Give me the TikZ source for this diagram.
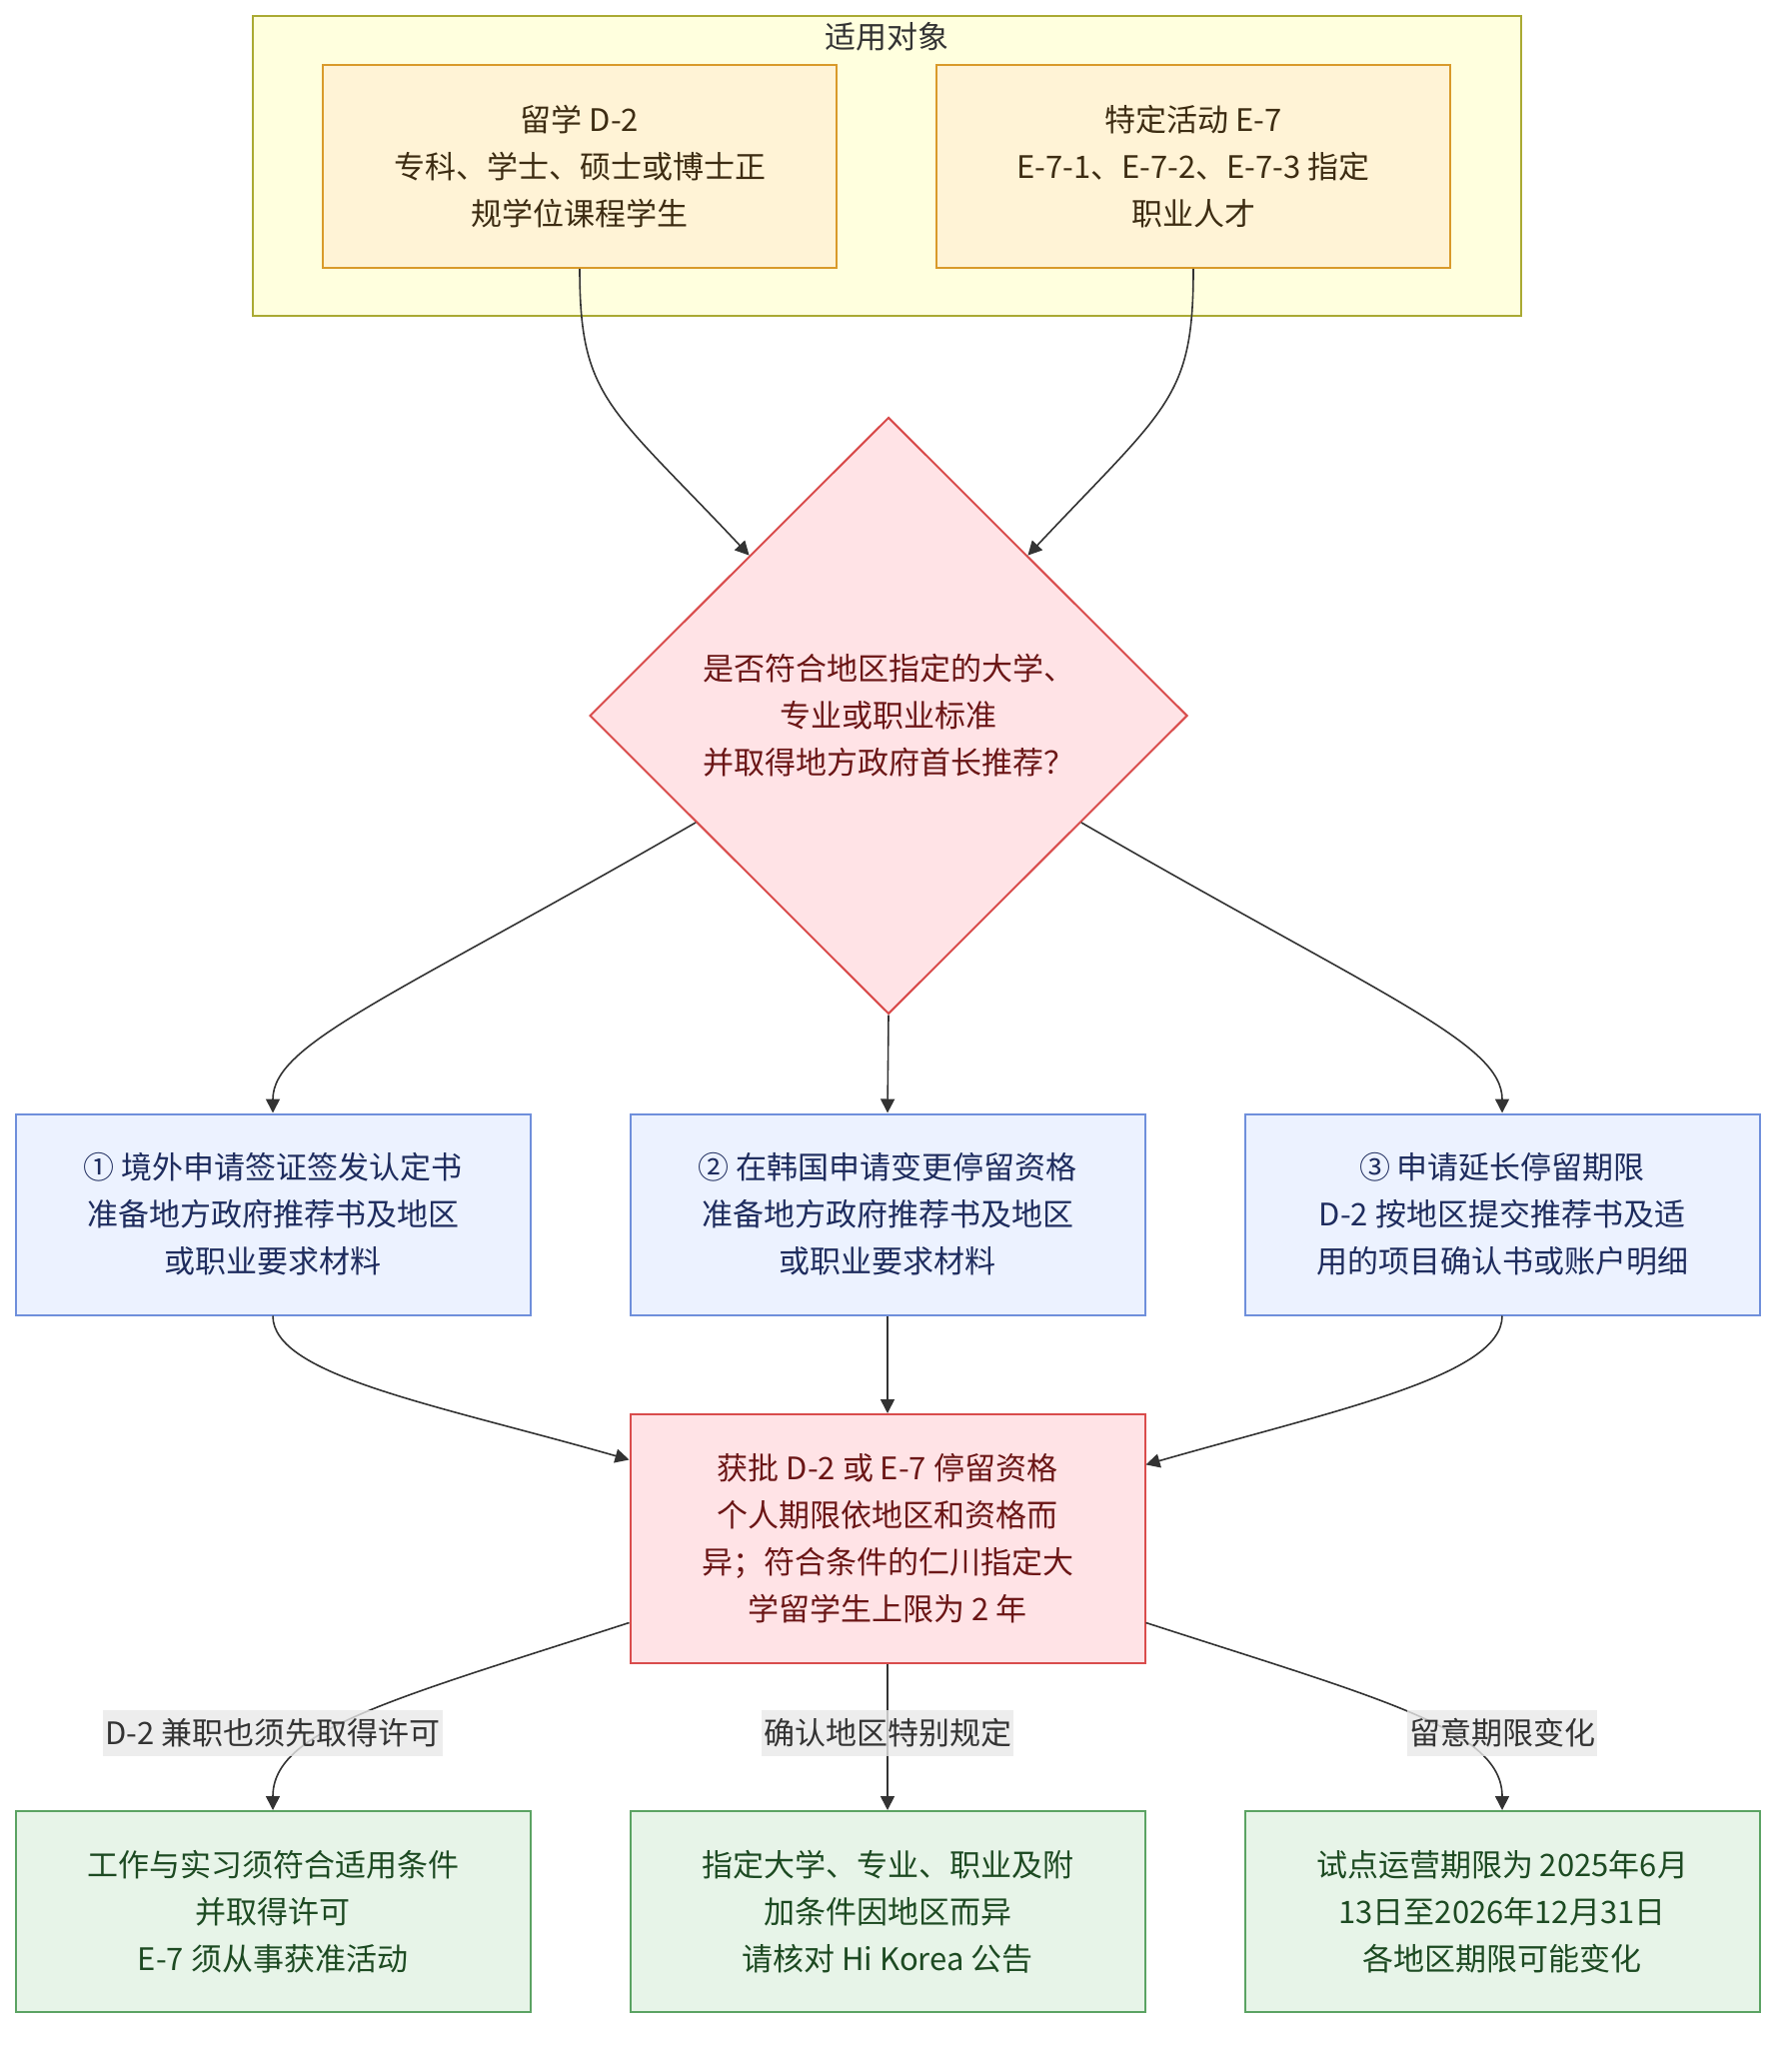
\documentclass[tikz,border=0pt]{standalone}
\usepackage{fontspec}
\setmainfont{Noto Sans CJK SC}
\usepackage{xcolor}
\usepackage{tikz}
\usetikzlibrary{shapes.geometric,arrows.meta,positioning}

\definecolor{groupfill}{HTML}{FFFFDE}
\definecolor{groupline}{HTML}{AAAA33}
\definecolor{visafill}{HTML}{FFF3D6}
\definecolor{visaline}{HTML}{D99A2B}
\definecolor{visatext}{HTML}{3D2C12}
\definecolor{redfill}{HTML}{FFE3E6}
\definecolor{redline}{HTML}{D94C4C}
\definecolor{redtext}{HTML}{6B1616}
\definecolor{bluefill}{HTML}{ECF2FF}
\definecolor{blueline}{HTML}{6F8FDB}
\definecolor{bluetext}{HTML}{1E2C5E}
\definecolor{greenfill}{HTML}{E7F4E8}
\definecolor{greenline}{HTML}{5BA363}
\definecolor{greentext}{HTML}{1D4A22}
\definecolor{labelfill}{HTML}{E8E8E8}
\definecolor{edgeline}{HTML}{333333}

\tikzset{
  basefont/.style={font=\fontsize{15.5pt}{23.5pt}\selectfont, align=center},
  groupbox/.style={rectangle, draw=groupline, fill=groupfill, line width=1pt, minimum width=634.5pt, minimum height=150pt},
  grouptitle/.style={basefont, text=edgeline, inner sep=0pt},
  visabox/.style={rectangle, draw=visaline, fill=visafill, text=visatext, line width=1pt, minimum width=257pt, minimum height=101.5pt, basefont},
  decision/.style={diamond, draw=redline, fill=redfill, text=redtext, line width=1pt, minimum width=299pt, minimum height=298.5pt, inner sep=0pt, basefont},
  stepbox/.style={rectangle, draw=blueline, fill=bluefill, text=bluetext, line width=1pt, minimum width=257.5pt, minimum height=100.5pt, basefont},
  resultbox/.style={rectangle, draw=redline, fill=redfill, text=redtext, line width=1pt, minimum width=257.5pt, minimum height=124.5pt, basefont},
  notebox/.style={rectangle, draw=greenline, fill=greenfill, text=greentext, line width=1pt, minimum width=257.5pt, minimum height=100.5pt, basefont},
  edgelabel/.style={rectangle, fill=labelfill, fill opacity=0.8, text opacity=1, text=edgeline, inner xsep=1pt, inner ysep=0pt, minimum height=23pt, basefont},
  flow/.style={draw=edgeline, line width=0.8pt}
}

\begin{document}
\begin{tikzpicture}[x=0.5pt, y=0.5pt, node distance=49pt, >={Triangle[length=7pt,width=7pt]}]
  \useasboundingbox (0,0) rectangle (1792,-2048);
  \node (targets) [groupbox] at (887.5,-166) {};
  \node (targetstitle) [grouptitle] at (887.5,-37) {适用对象};
  \node (d2) [visabox] at (580,-166.5) {留学 D-2\\专科、学士、硕士或博士正\\规学位课程学生};
  \node (e7) [visabox, right=of d2] {特定活动 E-7\\E-7-1、E-7-2、E-7-3 指定\\职业人才};
  \node (check) [decision] at (889,-716) {是否符合地区指定的大学、\\专业或职业标准\\并取得地方政府首长推荐？};
  \node (apply2) [stepbox] at (888,-1215) {② 在韩国申请变更停留资格\\准备地方政府推荐书及地区\\或职业要求材料};
  \node (apply1) [stepbox, left=of apply2] {① 境外申请签证签发认定书\\准备地方政府推荐书及地区\\或职业要求材料};
  \node (apply3) [stepbox, right=of apply2] {③ 申请延长停留期限\\D-2 按地区提交推荐书及适\\用的项目确认书或账户明细};
  \node (approved) [resultbox] at (888,-1539.5) {获批 D-2 或 E-7 停留资格\\个人期限依地区和资格而\\异；符合条件的仁川指定大\\学留学生上限为 2 年};
  \node (note2) [notebox] at (888,-1912.5) {指定大学、专业、职业及附\\加条件因地区而异\\请核对 Hi Korea 公告};
  \node (note1) [notebox, left=of note2] {工作与实习须符合适用条件\\并取得许可\\E-7 须从事获准活动};
  \node (note3) [notebox, right=of note2] {试点运营期限为 2025年6月\\13日至2026年12月31日\\各地区期限可能变化};
  \draw[->, flow] (d2.south) .. controls +(0,-130) and +(-140,149) .. (check.131);
  \draw[->, flow] (e7.south) .. controls +(0,-130) and +(140,149) .. (check.49);
  \draw[->, flow] (check.209) .. controls +(-303,-175) and +(0,70) .. (apply1.north);
  \draw[->, flow] (check.south) -- (apply2.north);
  \draw[->, flow] (check.331) .. controls +(303,-175) and +(0,70) .. (apply3.north);
  \draw[->, flow] (apply1.south) .. controls +(0,-60) and +(-192,55) .. (approved.163.5);
  \draw[->, flow] (apply2.south) -- (approved.north);
  \draw[->, flow] (apply3.south) .. controls +(0,-60) and +(192,55) .. (approved.16.5);
  \draw[->, flow] (approved.198) .. controls +(-238,-77) and +(0,80) .. (note1.north);
  \draw[->, flow] (approved.south) -- (note2.north);
  \draw[->, flow] (approved.342) .. controls +(238,-77) and +(0,80) .. (note3.north);
  \node (parttime) [edgelabel, above=27pt of note1] {D-2 兼职也须先取得许可};
  \node (localrule) [edgelabel, above=27pt of note2] {确认地区特别规定};
  \node (period) [edgelabel, above=27pt of note3] {留意期限变化};
\end{tikzpicture}
\end{document}
